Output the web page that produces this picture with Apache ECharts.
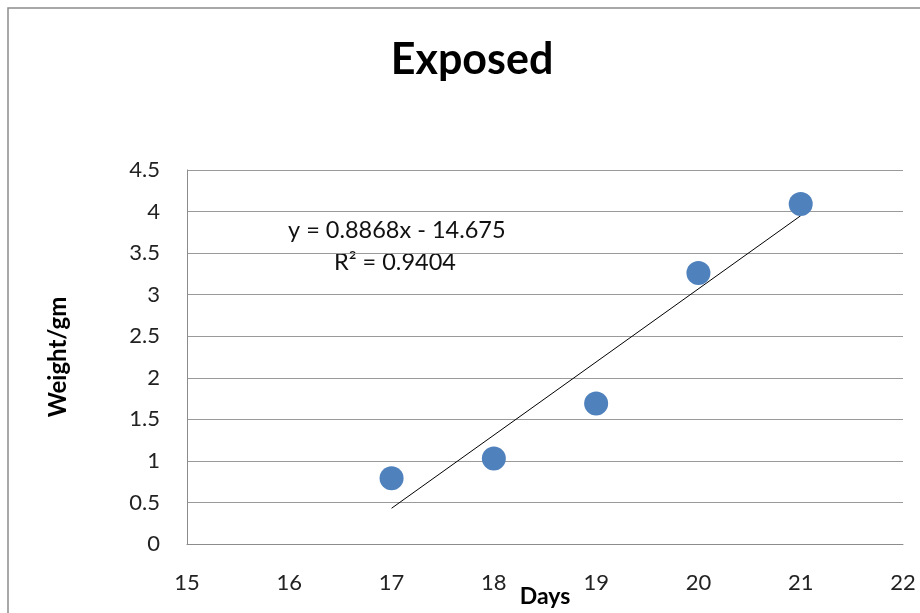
<!DOCTYPE html>
<html><head><meta charset="utf-8">
<script src="https://cdn.jsdelivr.net/npm/echarts@6/dist/echarts.min.js"></script>
<style>html,body{margin:0;padding:0;background:#fff}#c{width:920px;height:613px}</style>
</head><body><div id="c"></div>
<script>
const days = [17, 18, 19, 20, 21];
const weights = [0.79, 1.03, 1.69, 3.26, 4.09];
const trendX = [17, 21];
const trendY = [0.43, 3.95];
const equationText = 'y = 0.8868x - 14.675';
const r2Text = 'R² = 0.9404';
const xTicks = [15, 16, 17, 18, 19, 20, 21, 22];

const chart = echarts.init(document.getElementById('c'));
const font = 'Lato, "Noto Sans", sans-serif';
chart.setOption({
  animation: false,
  title: {text: 'Exposed', left: 467, top: 34, textAlign: 'center',
    textStyle: {fontFamily: font, fontSize: 43, fontWeight: 'bold', color: '#000'}},
  grid: {left: 187, right: 17, top: 170, height: 374, outerBoundsMode: 'none', containLabel: false},
  graphic: [
    {type: 'polyline', shape: {points: [[8, 613], [8, 8], [920, 8]]},
     style: {stroke: '#8c8c8c', lineWidth: 1.5, fill: null}, silent: true},
    {type: 'text', left: 288, top: 218, style: {text: equationText, font: '23.5px ' + font, fill: '#111'}},
    {type: 'text', left: 334, top: 250, style: {text: r2Text, font: '23.5px ' + font, fill: '#111'}}
  ],
  xAxis: {
    type: 'value', min: 15, max: 22, interval: 1,
    name: 'Days', nameLocation: 'middle', nameGap: 41, nameMoveOverlap: false,
    nameTextStyle: {fontFamily: font, fontSize: 23, fontWeight: 'bold', color: '#000'},
    axisLine: {lineStyle: {color: '#8c8c8c'}}, axisTick: {show: false},
    splitLine: {show: false},
    axisLabel: {margin: 28, fontFamily: font, fontSize: 22, color: '#222',
      formatter: v => xTicks.includes(v) ? String(v) : ''}
  },
  yAxis: {
    type: 'value', min: 0, max: 4.5, interval: 0.5,
    name: 'Weight/gm', nameLocation: 'middle', nameGap: 117, nameRotate: 90, nameMoveOverlap: false,
    nameTextStyle: {fontFamily: font, fontSize: 24, fontWeight: 'bold', color: '#000'},
    axisLine: {show: true, lineStyle: {color: '#8c8c8c'}}, axisTick: {show: false},
    splitLine: {lineStyle: {color: '#9a9a9a'}},
    axisLabel: {margin: 27, fontFamily: font, fontSize: 22, color: '#222'}
  },
  series: [
    {type: 'line', data: trendX.map((x, i) => [x, trendY[i]]), symbol: 'none',
     lineStyle: {color: '#000', width: 1}, z: 1},
    {type: 'scatter', data: days.map((d, i) => [d, weights[i]]), symbolSize: 24,
     itemStyle: {color: '#4F81BD', opacity: 1}, z: 3}
  ]
});
</script></body></html>
